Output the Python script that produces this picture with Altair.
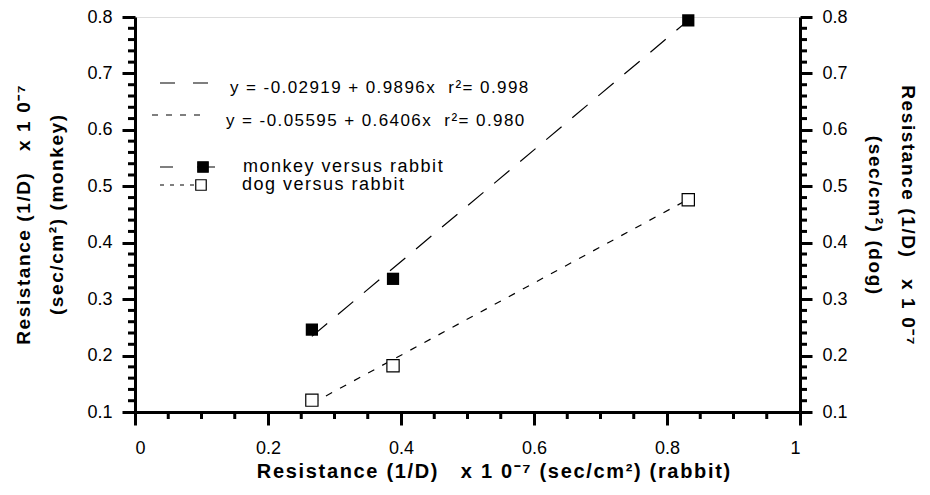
import altair as alt
import pandas as pd

# ---- data ----
rabbit_x = [0.266, 0.388, 0.832]
monkey_y = [0.246, 0.336, 0.794]
dog_y = [0.121, 0.182, 0.476]

fit_x = [0.266, 0.832]
monkey_fit = [0.234, 0.794]
dog_fit = [0.115, 0.477]

x_major = [0, 0.2, 0.4, 0.6, 0.8, 1]
x_minor = [0.05, 0.1, 0.15, 0.25, 0.3, 0.35, 0.45, 0.5, 0.55, 0.65, 0.7, 0.75,
           0.85, 0.9, 0.95]
y_major = [0.1, 0.2, 0.3, 0.4, 0.5, 0.6, 0.7, 0.8]
y_minor = [0.12, 0.14, 0.16, 0.18, 0.22, 0.24, 0.26, 0.28, 0.32, 0.34, 0.36, 0.38,
           0.42, 0.44, 0.46, 0.48, 0.52, 0.54, 0.56, 0.58, 0.62, 0.64, 0.66, 0.68,
           0.72, 0.74, 0.76, 0.78]

eq_labels = ["y = -0.02919 + 0.9896x  r\u00b2= 0.998",
             "y = -0.05595 + 0.6406x  r\u00b2= 0.980"]
series_labels = ["monkey versus rabbit", "dog versus rabbit"]

x_title = "Resistance (1/D)   x 1 0\u207b\u2077 (sec/cm\u00b2) (rabbit)"
yl_title = ["Resistance (1/D)   x 1 0\u207b\u2077", "(sec/cm\u00b2) (monkey)"]
yr_title = ["Resistance (1/D)   x 1 0\u207b\u2077", "(sec/cm\u00b2) (dog)"]

FONT = "Liberation Sans"
HS = "\u200a"  # hair space used as letter spacing


def spaced(s):
    return HS.join(s)


monkey_df = pd.DataFrame({"x": rabbit_x, "y": monkey_y})
dog_df = pd.DataFrame({"x": rabbit_x, "y": dog_y})
mfit_df = pd.DataFrame({"x": fit_x, "y": monkey_fit})
dfit_df = pd.DataFrame({"x": fit_x, "y": dog_fit})
xminor_df = pd.DataFrame({"x": x_minor})
yminor_df = pd.DataFrame({"y": y_minor})

xs = alt.Scale(domain=[0, 1], nice=False, zero=False)
ys = alt.Scale(domain=[0.1, 0.8], nice=False, zero=False)

common = dict(domainColor="black", domainWidth=3, tickColor="black", tickWidth=3,
              grid=False, labelFont=FONT, labelColor="black", titleFont=FONT,
              titleColor="black")

x_axis = alt.Axis(orient="bottom", values=x_major, format="~g", tickSize=13,
                  labelFontSize=18, labelPadding=14, title=spaced(x_title),
                  titleFontSize=20, titleFontWeight="bold", titlePadding=4,
                  titleX=358, titleAlign="center", **common)
yl_axis = alt.Axis(orient="left", values=y_major, format=".1f", tickSize=13,
                   labelFontSize=18, labelPadding=10,
                   title=[spaced(t) for t in yl_title],
                   titleFontSize=19, titleFontWeight="bold", titlePadding=20,
                   titleLineHeight=33, **common)
yr_axis = alt.Axis(orient="right", values=y_major, format=".1f", tickSize=12,
                   labelFontSize=18, labelPadding=10,
                   title=[spaced(t) for t in yr_title],
                   titleFontSize=19, titleFontWeight="bold", titlePadding=17,
                   titleLineHeight=33, titleAngle=90, **common)

X = alt.X("x:Q", scale=xs, axis=x_axis)
YL = alt.Y("y:Q", scale=ys, axis=yl_axis)

mline = alt.Chart(mfit_df).mark_line(color="black", strokeWidth=1.2,
                                     strokeDash=[20, 14]).encode(x=X, y=YL)
dline = alt.Chart(dfit_df).mark_line(color="black", strokeWidth=1.2,
                                     strokeDash=[7, 9]).encode(x=X, y=YL)
mpts = alt.Chart(monkey_df).mark_point(shape="square", filled=True, color="black",
                                       size=150, opacity=1).encode(x=X, y=YL)
dpts = alt.Chart(dog_df).mark_point(shape="square", filled=True, fill="white",
                                    stroke="black", strokeWidth=1.2, size=150,
                                    opacity=1).encode(x=X, y=YL)

# minor ticks drawn through the same scales
xminor = alt.Chart(xminor_df).mark_rule(color="black", strokeWidth=3).encode(
    x=X, y=alt.value(395), y2=alt.value(402))
ylminor = alt.Chart(yminor_df).mark_rule(color="black", strokeWidth=3).encode(
    y=YL, x=alt.value(-7), x2=alt.value(0))

left_group = alt.layer(mline, dline, dpts, mpts, xminor, ylminor)

right_group = alt.Chart(yminor_df).mark_rule(color="black", strokeWidth=3).encode(
    y=alt.Y("y:Q", scale=ys, axis=yr_axis),
    x=alt.value(665), x2=alt.value(672))

one = pd.DataFrame({"a": [0]})


def text_at(label, px, py, size=18):
    return alt.Chart(pd.DataFrame({"t": [spaced(label)]})).mark_text(
        align="left", baseline="middle", font=FONT, fontSize=size, color="black"
    ).encode(x=alt.value(px), y=alt.value(py), text="t:N")


def rule_at(x1, x2, py, dash):
    return alt.Chart(one).mark_rule(color="black", strokeWidth=1.2,
                                    strokeDash=dash).encode(
        x=alt.value(x1), x2=alt.value(x2), y=alt.value(py))


def square_at(px, py, filled):
    return alt.Chart(one).mark_point(
        shape="square", filled=True, fill="black" if filled else "white",
        stroke="black", strokeWidth=1.2, size=110, opacity=1
    ).encode(x=alt.value(px), y=alt.value(py))


annot = [
    rule_at(25, 73, 66, [15, 18]),
    text_at(eq_labels[0], 95, 71, 17),
    rule_at(17, 70, 98, [6, 8]),
    text_at(eq_labels[1], 91, 104, 17),
    rule_at(25, 80, 150, [13, 24, 18]),
    square_at(68, 150, True),
    text_at(series_labels[0], 108, 150),
    rule_at(25, 75, 168, [4, 6]),
    square_at(66, 168, False),
    text_at(series_labels[1], 107, 168),
]

chart = alt.layer(left_group, right_group, *annot).resolve_scale(
    y="independent"
).properties(
    width=665, height=395,
    autosize=alt.AutoSizeParams(type="none"),
    padding={"left": 127, "top": 9, "right": 122, "bottom": 70},
).configure_view(stroke=None).configure(background="white")

chart.save("out.html", embed_options={"renderer": "svg", "actions": False})
